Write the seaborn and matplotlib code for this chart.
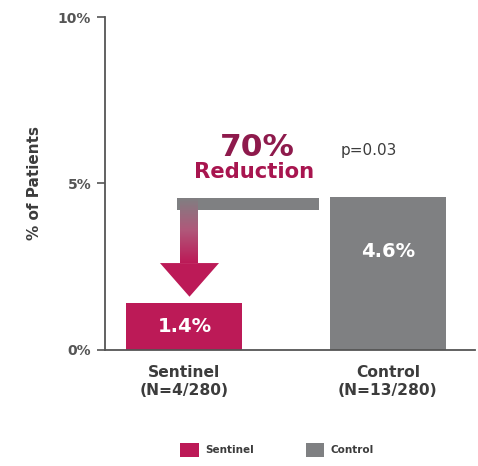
import numpy as np
import pandas as pd
import matplotlib
matplotlib.use("Agg")
import matplotlib.pyplot as plt
from matplotlib.patches import Polygon, Rectangle, Patch
from matplotlib.colors import LinearSegmentedColormap
import seaborn as sns

# ---- data ----
groups = ["Sentinel", "Control"]
tick_labels = ["Sentinel\n(N=4/280)", "Control\n(N=13/280)"]
rates = [1.4, 4.6]
value_labels = ["1.4%", "4.6%"]
reduction_text = "70%"
p_text = "p=0.03"
yticks = [0, 5, 10]
ytick_labels = ["0%", "5%", "10%"]

pink = "#BC1A57"
grey = "#7F8082"
text_grey = "#3C3C3C"

sns.set_theme(style="white")
plt.rcParams["font.family"] = ["DejaVu Sans"]

fig = plt.figure(figsize=(4.78, 4.66), dpi=100)
ax = fig.add_axes([0.2197, 0.249, 0.775, 0.7145])

df = pd.DataFrame({"group": groups, "rate": rates})
sns.barplot(data=df, x="group", y="rate", hue="group",
            palette=[pink, grey], width=0.57, legend=False,
            saturation=1, ax=ax, edgecolor="none")

ax.set_xlim(-0.39, 1.43)
ax.set_ylim(0, 10)
ax.set_yticks(yticks)
ax.set_yticklabels(ytick_labels, fontsize=10, fontweight="bold",
                   color="#555555")
ax.set_xticks([0, 1])
ax.set_xticklabels(tick_labels, fontsize=11.2, fontweight="bold",
                   color=text_grey, linespacing=1.2)
ax.set_xticks([0.46], minor=True)
ax.tick_params(axis="x", which="major", length=0, pad=11)
ax.tick_params(axis="x", which="minor", length=5, width=1.2,
               color="#555555", direction="in")
ax.tick_params(axis="y", length=6, width=1.2, color="#555555",
               direction="out", left=True, pad=4)
ax.set_xlabel("")
ax.set_ylabel("% of Patients", fontsize=11, fontweight="bold",
              color=text_grey, labelpad=11)
for s in ["top", "right"]:
    ax.spines[s].set_visible(False)
for s in ["left", "bottom"]:
    ax.spines[s].set_color("#555555")
    ax.spines[s].set_linewidth(1.3)

# value labels inside bars
label_frac = [0.5, 0.64]
for i, (v, t) in enumerate(zip(rates, value_labels)):
    ax.text(i, v * label_frac[i], t, ha="center", va="center",
            color="white", fontsize=14, fontweight="bold")

# elbow arrow from the control level down to the sentinel bar
top = rates[1] - 0.03
bar_h = 0.36
x_left, x_right = -0.034, 0.66
shaft_l, shaft_r = -0.024, 0.063
shaft_bottom = 2.61
tip = rates[0] + 0.2
head_l, head_r = -0.12, 0.17

ax.add_patch(Rectangle((x_left, top - bar_h), x_right - x_left, bar_h,
                       color=grey, lw=0, zorder=3))
cmap = LinearSegmentedColormap.from_list("fade", [grey, "#B0587A", pink])
grad = np.linspace(0, 1, 200).reshape(-1, 1)
shaft = Rectangle((shaft_l, shaft_bottom), shaft_r - shaft_l,
                  top - shaft_bottom, transform=ax.transData,
                  facecolor="none", lw=0)
ax.add_patch(shaft)
im = ax.imshow(grad, cmap=cmap, aspect="auto", origin="upper",
               extent=(shaft_l, shaft_r, shaft_bottom, top), zorder=3)
im.set_clip_path(shaft)
ax.add_patch(Polygon([(head_l, shaft_bottom), (head_r, shaft_bottom),
                      ((head_l + head_r) / 2, tip)],
                     closed=True, color=pink, lw=0, zorder=3))
ax.set_xlim(-0.39, 1.43)
ax.set_ylim(0, 10)

ax.text(0.36, 6.07, reduction_text, ha="center", va="center",
        fontsize=22.5, fontweight="bold", color="#8E1A4C")
ax.text(0.34, 5.35, "Reduction", ha="center", va="center",
        fontsize=15.2, fontweight="bold", color="#A8154F")
ax.text(0.905, 6.0, p_text, ha="center", va="center",
        fontsize=11, color=text_grey)

handles = [Patch(facecolor=pink, edgecolor="none", label=groups[0]),
           Patch(facecolor=grey, edgecolor="none", label=groups[1])]
leg = fig.legend(handles=handles, loc="center",
                 bbox_to_anchor=(277 / 478, 1 - 450 / 466), ncol=2,
                 frameon=False, handlelength=1.75,
                 handleheight=1.8, columnspacing=5.0, handletextpad=0.6,
                 prop={"weight": "bold", "size": 7.5})
for t in leg.get_texts():
    t.set_color(text_grey)

fig.savefig("out.png", dpi=100)
